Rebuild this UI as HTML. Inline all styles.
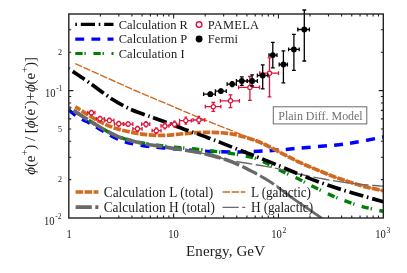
<!DOCTYPE html>
<html><head><meta charset="utf-8"><title>Positron fraction</title>
<style>html,body{margin:0;padding:0;background:#fff}body{width:407px;height:273px;overflow:hidden;font-family:"Liberation Serif",serif}</style></head>
<body>
<svg width="407" height="273" viewBox="0 0 407 273" style="display:block;will-change:transform">
<rect x="0" y="0" width="407" height="273" fill="#ffffff"/>
<defs><clipPath id="cp"><rect x="68.80" y="14.00" width="314.50" height="204.00"/></clipPath></defs>
<g clip-path="url(#cp)" fill="none" stroke-linecap="butt" stroke-linejoin="round">
<defs>
<clipPath id="g0"><rect x="0" y="0" width="238" height="273"/></clipPath>
<clipPath id="g1"><rect x="238" y="0" width="19" height="273"/></clipPath>
<clipPath id="g2"><rect x="257" y="0" width="18.5" height="273"/></clipPath>
<clipPath id="g3"><rect x="276.5" y="0" width="53.5" height="273"/></clipPath>
</defs>
<path d="M68.80 109.90 C69.73 110.67 72.20 112.95 74.40 114.50 C76.60 116.05 79.47 117.77 82.00 119.20 C84.53 120.63 87.22 121.78 89.60 123.10 C91.98 124.42 93.92 125.70 96.30 127.10 C98.68 128.50 101.60 130.17 103.90 131.50 C106.20 132.83 107.87 133.88 110.10 135.10 C112.33 136.32 114.97 137.73 117.30 138.80 C119.63 139.87 121.70 140.72 124.10 141.50 C126.50 142.28 127.92 142.72 131.70 143.50 C135.48 144.28 141.47 145.47 146.80 146.20 C152.13 146.93 157.40 147.33 163.70 147.90 C170.00 148.47 177.72 149.03 184.60 149.60 C191.48 150.17 196.82 150.92 205.00 151.30 C213.18 151.68 224.82 151.90 233.70 151.90 C242.58 151.90 250.92 151.60 258.30 151.30 C265.68 151.00 271.10 150.63 278.00 150.10 C284.90 149.57 290.37 148.92 299.70 148.10 C309.03 147.28 324.90 146.13 334.00 145.20 C343.10 144.27 346.08 143.87 354.30 142.50 C362.52 141.13 378.47 137.92 383.30 137.00" stroke="#0000ff" stroke-width="3.5" stroke-dasharray="8.9 7.27" stroke-dashoffset="0"/>
<path d="M68.80 107.50 C71.13 109.00 77.65 113.25 82.80 116.50 C87.95 119.75 94.08 123.75 99.70 127.00 C105.32 130.25 110.90 133.67 116.50 136.00 C122.10 138.33 128.25 139.73 133.30 141.00 C138.35 142.27 141.73 142.77 146.80 143.60 C151.87 144.43 158.08 145.30 163.70 146.00 C169.32 146.70 174.75 147.23 180.50 147.80 C186.25 148.37 192.45 148.80 198.20 149.40 C203.95 150.00 209.38 150.70 215.00 151.40 C220.62 152.10 226.13 152.70 231.90 153.60 C237.67 154.50 245.12 155.82 249.60 156.80 C254.08 157.78 255.58 158.23 258.80 159.50 C262.02 160.77 264.90 162.38 268.90 164.40 C272.90 166.42 277.67 169.08 282.80 171.60 C287.93 174.12 294.73 177.05 299.70 179.50 C304.67 181.95 306.37 183.25 312.60 186.30 C318.83 189.35 328.92 194.45 337.10 197.80 C345.28 201.15 354.00 204.15 361.70 206.40 C369.40 208.65 379.70 210.48 383.30 211.30" stroke="#008000" stroke-width="3.4" stroke-dasharray="7.3 1.9 1.3 7.6" stroke-dashoffset="12.4"/>
<path clip-path="url(#g0)" d="M68.80 107.50 C71.13 109.00 77.65 113.25 82.80 116.50 C87.95 119.75 94.08 123.75 99.70 127.00 C105.32 130.25 110.90 133.62 116.50 136.00 C122.10 138.38 128.25 139.93 133.30 141.30 C138.35 142.67 141.73 143.27 146.80 144.20 C151.87 145.13 158.08 146.02 163.70 146.90 C169.32 147.78 174.78 148.60 180.50 149.50 C186.22 150.40 193.00 151.37 198.00 152.30 C203.00 153.23 205.67 153.82 210.50 155.10 C215.33 156.38 221.83 158.18 227.00 160.00 C232.17 161.82 236.75 163.78 241.50 166.00 C246.25 168.22 251.58 171.20 255.50 173.30 C259.42 175.40 261.92 176.75 265.00 178.60 C268.08 180.45 270.05 181.62 274.00 184.40 C277.95 187.18 283.53 191.58 288.70 195.30 C293.87 199.02 299.45 202.85 305.00 206.70 C310.55 210.55 319.17 216.45 322.00 218.40" stroke="#696969" stroke-width="3.7" stroke-dasharray="16.4 3.54" stroke-dashoffset="13.77"/>
<path clip-path="url(#g1)" d="M68.80 107.50 C71.13 109.00 77.65 113.25 82.80 116.50 C87.95 119.75 94.08 123.75 99.70 127.00 C105.32 130.25 110.90 133.62 116.50 136.00 C122.10 138.38 128.25 139.93 133.30 141.30 C138.35 142.67 141.73 143.27 146.80 144.20 C151.87 145.13 158.08 146.02 163.70 146.90 C169.32 147.78 174.78 148.60 180.50 149.50 C186.22 150.40 193.00 151.37 198.00 152.30 C203.00 153.23 205.67 153.82 210.50 155.10 C215.33 156.38 221.83 158.18 227.00 160.00 C232.17 161.82 236.75 163.78 241.50 166.00 C246.25 168.22 251.58 171.20 255.50 173.30 C259.42 175.40 261.92 176.75 265.00 178.60 C268.08 180.45 270.05 181.62 274.00 184.40 C277.95 187.18 283.53 191.58 288.70 195.30 C293.87 199.02 299.45 202.85 305.00 206.70 C310.55 210.55 319.17 216.45 322.00 218.40" stroke="#696969" stroke-width="3.3" stroke-dasharray="16.4 3.54" stroke-dashoffset="13.77"/>
<path clip-path="url(#g2)" d="M68.80 107.50 C71.13 109.00 77.65 113.25 82.80 116.50 C87.95 119.75 94.08 123.75 99.70 127.00 C105.32 130.25 110.90 133.62 116.50 136.00 C122.10 138.38 128.25 139.93 133.30 141.30 C138.35 142.67 141.73 143.27 146.80 144.20 C151.87 145.13 158.08 146.02 163.70 146.90 C169.32 147.78 174.78 148.60 180.50 149.50 C186.22 150.40 193.00 151.37 198.00 152.30 C203.00 153.23 205.67 153.82 210.50 155.10 C215.33 156.38 221.83 158.18 227.00 160.00 C232.17 161.82 236.75 163.78 241.50 166.00 C246.25 168.22 251.58 171.20 255.50 173.30 C259.42 175.40 261.92 176.75 265.00 178.60 C268.08 180.45 270.05 181.62 274.00 184.40 C277.95 187.18 283.53 191.58 288.70 195.30 C293.87 199.02 299.45 202.85 305.00 206.70 C310.55 210.55 319.17 216.45 322.00 218.40" stroke="#696969" stroke-width="3.0" stroke-dasharray="16.4 3.54" stroke-dashoffset="13.77"/>
<path clip-path="url(#g3)" d="M68.80 107.50 C71.13 109.00 77.65 113.25 82.80 116.50 C87.95 119.75 94.08 123.75 99.70 127.00 C105.32 130.25 110.90 133.62 116.50 136.00 C122.10 138.38 128.25 139.93 133.30 141.30 C138.35 142.67 141.73 143.27 146.80 144.20 C151.87 145.13 158.08 146.02 163.70 146.90 C169.32 147.78 174.78 148.60 180.50 149.50 C186.22 150.40 193.00 151.37 198.00 152.30 C203.00 153.23 205.67 153.82 210.50 155.10 C215.33 156.38 221.83 158.18 227.00 160.00 C232.17 161.82 236.75 163.78 241.50 166.00 C246.25 168.22 251.58 171.20 255.50 173.30 C259.42 175.40 261.92 176.75 265.00 178.60 C268.08 180.45 270.05 181.62 274.00 184.40 C277.95 187.18 283.53 191.58 288.70 195.30 C293.87 199.02 299.45 202.85 305.00 206.70 C310.55 210.55 319.17 216.45 322.00 218.40" stroke="#696969" stroke-width="2.7"/>
<path d="M75.30 106.70 C76.55 107.52 78.73 109.10 82.80 111.60 C86.87 114.10 94.08 118.87 99.70 121.70 C105.32 124.53 110.90 126.78 116.50 128.60 C122.10 130.42 128.25 131.58 133.30 132.60 C138.35 133.62 141.73 134.23 146.80 134.70 C151.87 135.17 158.08 135.52 163.70 135.40 C169.32 135.28 174.95 134.45 180.50 134.00 C186.05 133.55 191.95 132.97 197.00 132.70 C202.05 132.43 205.68 132.28 210.80 132.40 C215.92 132.52 222.08 132.63 227.70 133.40 C233.32 134.17 238.78 135.37 244.50 137.00 C250.22 138.63 255.62 140.40 262.00 143.20 C268.38 146.00 276.52 150.60 282.80 153.80 C289.08 157.00 294.08 159.77 299.70 162.40 C305.32 165.03 310.27 167.03 316.50 169.60 C322.73 172.17 329.57 175.12 337.10 177.80 C344.63 180.48 354.00 183.53 361.70 185.70 C369.40 187.87 379.70 189.95 383.30 190.80" stroke="#d2691e" stroke-width="3.7" stroke-dasharray="7.5 1.5" stroke-dashoffset="1.2"/>
<path d="M75.30 63.70 C85.08 68.08 119.22 83.50 134.00 90.00 C148.78 96.50 153.33 98.18 164.00 102.70 C174.67 107.22 185.42 111.90 198.00 117.10 C210.58 122.30 230.83 130.35 239.50 133.90 C248.17 137.45 246.25 136.85 250.00 138.40 C253.75 139.95 256.53 140.63 262.00 143.20 C267.47 145.77 276.52 150.60 282.80 153.80 C289.08 157.00 294.08 159.77 299.70 162.40 C305.32 165.03 310.27 167.03 316.50 169.60 C322.73 172.17 329.57 175.12 337.10 177.80 C344.63 180.48 354.00 183.53 361.70 185.70 C369.40 187.87 379.70 189.95 383.30 190.80" stroke="#d2691e" stroke-width="1.4" stroke-dasharray="7.5 1.6" stroke-dashoffset="0"/>
<path d="M198.00 152.30 C200.08 152.77 205.70 153.88 210.50 155.10 C215.30 156.32 221.27 158.32 226.80 159.60 C232.33 160.88 238.08 161.82 243.70 162.80 C249.32 163.78 254.90 164.53 260.50 165.50 C266.10 166.47 270.77 167.13 277.30 168.60 C283.83 170.07 291.77 172.52 299.70 174.30 C307.63 176.08 316.62 177.85 324.90 179.30 C333.18 180.75 341.22 181.97 349.40 183.00 C357.58 184.03 368.35 184.97 374.00 185.50 C379.65 186.03 381.75 186.08 383.30 186.20" stroke="#696969" stroke-width="1.4" stroke-dasharray="16.2 3.5" stroke-dashoffset="0"/>
<path d="M68.80 68.80 C69.45 69.23 69.93 69.55 72.70 71.40 C75.47 73.25 82.03 77.58 85.40 79.90 C88.77 82.22 89.53 82.87 92.90 85.30 C96.27 87.73 102.23 92.10 105.60 94.50 C108.97 96.90 109.88 97.68 113.10 99.70 C116.32 101.72 121.62 104.83 124.90 106.60 C128.18 108.37 129.28 108.88 132.80 110.30 C136.32 111.72 142.47 113.83 146.00 115.10 C149.53 116.37 150.00 116.45 154.00 117.90 C158.00 119.35 164.37 121.70 170.00 123.80 C175.63 125.90 183.30 128.87 187.80 130.50 C192.30 132.13 193.20 132.23 197.00 133.60 C200.80 134.97 206.85 137.28 210.60 138.70 C214.35 140.12 215.57 140.55 219.50 142.10 C223.43 143.65 228.47 145.75 234.20 148.00 C239.93 150.25 246.17 152.53 253.90 155.60 C261.63 158.67 272.07 162.88 280.60 166.40 C289.13 169.92 296.92 173.47 305.10 176.70 C313.28 179.93 321.50 183.02 329.70 185.80 C337.90 188.58 345.37 190.73 354.30 193.40 C363.23 196.07 378.47 200.40 383.30 201.80" stroke="#000000" stroke-width="3.7" stroke-dasharray="14.2 3.7 1.6 3.85" stroke-dashoffset="18.65"/>
</g>
<g stroke="#dc143c" stroke-width="1.3" fill="none"><path d="M87.80 112.70H94.90 M87.80 110.80V114.60 M94.90 110.80V114.60"/><path d="M91.40 110.40V115.00 M90.10 110.40H92.70 M90.10 115.00H92.70"/><circle cx="91.40" cy="112.70" r="2.10" fill="#ffffff" stroke-width="1.2"/></g>
<g stroke="#dc143c" stroke-width="1.3" fill="none"><path d="M96.30 118.80H104.30 M96.30 116.90V120.70 M104.30 116.90V120.70"/><path d="M100.00 116.50V121.10 M98.70 116.50H101.30 M98.70 121.10H101.30"/><circle cx="100.00" cy="118.80" r="2.10" fill="#ffffff" stroke-width="1.2"/></g>
<g stroke="#dc143c" stroke-width="1.3" fill="none"><path d="M104.80 120.40H113.90 M104.80 118.50V122.30 M113.90 118.50V122.30"/><path d="M109.40 118.10V122.70 M108.10 118.10H110.70 M108.10 122.70H110.70"/><circle cx="109.40" cy="120.40" r="2.10" fill="#ffffff" stroke-width="1.2"/></g>
<g stroke="#dc143c" stroke-width="1.3" fill="none"><path d="M114.40 123.80H123.20 M114.40 121.90V125.70 M123.20 121.90V125.70"/><path d="M118.80 121.50V126.10 M117.50 121.50H120.10 M117.50 126.10H120.10"/><circle cx="118.80" cy="123.80" r="2.10" fill="#ffffff" stroke-width="1.2"/></g>
<g stroke="#dc143c" stroke-width="1.3" fill="none"><path d="M123.90 124.10H132.80 M123.90 122.20V126.00 M132.80 122.20V126.00"/><path d="M128.10 121.80V126.40 M126.80 121.80H129.40 M126.80 126.40H129.40"/><circle cx="128.10" cy="124.10" r="2.10" fill="#ffffff" stroke-width="1.2"/></g>
<g stroke="#dc143c" stroke-width="1.3" fill="none"><path d="M132.80 128.80H142.10 M132.80 126.90V130.70 M142.10 126.90V130.70"/><path d="M137.50 126.30V131.30 M136.20 126.30H138.80 M136.20 131.30H138.80"/><circle cx="137.50" cy="128.80" r="2.10" fill="#ffffff" stroke-width="1.2"/></g>
<g stroke="#dc143c" stroke-width="1.3" fill="none"><path d="M141.70 124.20H149.80 M141.70 122.30V126.10 M149.80 122.30V126.10"/><path d="M146.00 121.60V126.80 M144.70 121.60H147.30 M144.70 126.80H147.30"/><circle cx="146.00" cy="124.20" r="2.10" fill="#ffffff" stroke-width="1.2"/></g>
<g stroke="#dc143c" stroke-width="1.3" fill="none"><path d="M152.10 130.70H161.00 M152.10 128.80V132.60 M161.00 128.80V132.60"/><path d="M156.30 127.80V133.60 M155.00 127.80H157.60 M155.00 133.60H157.60"/><circle cx="156.30" cy="130.70" r="2.10" fill="#ffffff" stroke-width="1.2"/></g>
<g stroke="#dc143c" stroke-width="1.3" fill="none"><path d="M161.00 125.90H169.00 M161.00 124.00V127.80 M169.00 124.00V127.80"/><path d="M164.90 123.00V128.80 M163.60 123.00H166.20 M163.60 128.80H166.20"/><circle cx="164.90" cy="125.90" r="2.10" fill="#ffffff" stroke-width="1.2"/></g>
<g stroke="#dc143c" stroke-width="1.3" fill="none"><path d="M170.30 124.20H179.60 M170.30 122.30V126.10 M179.60 122.30V126.10"/><path d="M174.50 121.20V127.20 M173.20 121.20H175.80 M173.20 127.20H175.80"/><circle cx="174.50" cy="124.20" r="2.10" fill="#ffffff" stroke-width="1.2"/></g>
<g stroke="#dc143c" stroke-width="1.3" fill="none"><path d="M179.60 120.60H191.30 M179.60 118.70V122.50 M191.30 118.70V122.50"/><path d="M185.80 117.20V124.00 M184.50 117.20H187.10 M184.50 124.00H187.10"/><circle cx="185.80" cy="120.60" r="2.10" fill="#ffffff" stroke-width="1.2"/></g>
<g stroke="#dc143c" stroke-width="1.3" fill="none"><path d="M193.00 120.00H204.80 M193.00 118.10V121.90 M204.80 118.10V121.90"/><path d="M198.90 116.50V123.50 M197.60 116.50H200.20 M197.60 123.50H200.20"/><circle cx="198.90" cy="120.00" r="2.10" fill="#ffffff" stroke-width="1.2"/></g>
<g stroke="#dc143c" stroke-width="1.3" fill="none"><path d="M205.30 106.70H220.90 M205.30 104.80V108.60 M220.90 104.80V108.60"/><path d="M213.30 102.50V111.40 M211.40 102.50H215.20 M211.40 111.40H215.20"/><circle cx="213.30" cy="106.70" r="2.10" fill="#ffffff" stroke-width="1.2"/></g>
<g stroke="#dc143c" stroke-width="1.3" fill="none"><path d="M220.40 100.80H239.40 M220.40 98.90V102.70 M239.40 98.90V102.70"/><path d="M230.50 94.90V107.60 M228.60 94.90H232.40 M228.60 107.60H232.40"/><circle cx="230.50" cy="100.80" r="2.10" fill="#ffffff" stroke-width="1.2"/></g>
<g stroke="#dc143c" stroke-width="1.3" fill="none"><path d="M238.60 87.40H259.60 M238.60 85.50V89.30 M259.60 85.50V89.30"/><path d="M249.90 76.50V100.30 M248.00 76.50H251.80 M248.00 100.30H251.80"/><circle cx="249.90" cy="87.40" r="2.10" fill="#ffffff" stroke-width="1.2"/></g>
<g stroke="#dc143c" stroke-width="1.3" fill="none"><path d="M259.70 73.20H278.50 M259.70 71.30V75.10 M278.50 71.30V75.10"/><path d="M269.50 57.90V96.90 M267.60 57.90H271.40 M267.60 96.90H271.40"/><circle cx="269.50" cy="73.20" r="2.10" fill="#ffffff" stroke-width="1.2"/></g>
<g stroke="#000000" stroke-width="1.3" fill="none"><path d="M203.60 94.20H215.40 M203.60 92.30V96.10 M215.40 92.30V96.10"/><path d="M210.30 92.20V96.20 M209.00 92.20H211.60 M209.00 96.20H211.60"/><circle cx="210.30" cy="94.20" r="2.90" fill="#000000" stroke="none"/></g>
<g stroke="#000000" stroke-width="1.3" fill="none"><path d="M215.40 91.10H226.30 M215.40 89.20V93.00 M226.30 89.20V93.00"/><path d="M220.90 89.10V93.10 M219.60 89.10H222.20 M219.60 93.10H222.20"/><circle cx="220.90" cy="91.10" r="2.90" fill="#000000" stroke="none"/></g>
<g stroke="#000000" stroke-width="1.3" fill="none"><path d="M227.10 84.10H236.40 M227.10 82.20V86.00 M236.40 82.20V86.00"/><path d="M232.20 81.60V86.60 M230.90 81.60H233.50 M230.90 86.60H233.50"/><circle cx="232.20" cy="84.10" r="2.90" fill="#000000" stroke="none"/></g>
<g stroke="#000000" stroke-width="1.3" fill="none"><path d="M236.40 81.00H247.30 M236.40 79.10V82.90 M247.30 79.10V82.90"/><path d="M241.80 76.80V85.30 M239.90 76.80H243.70 M239.90 85.30H243.70"/><circle cx="241.80" cy="81.00" r="2.90" fill="#000000" stroke="none"/></g>
<g stroke="#000000" stroke-width="1.3" fill="none"><path d="M247.30 81.00H257.40 M247.30 79.10V82.90 M257.40 79.10V82.90"/><path d="M252.10 74.80V86.00 M250.20 74.80H254.00 M250.20 86.00H254.00"/><circle cx="252.10" cy="81.00" r="2.90" fill="#000000" stroke="none"/></g>
<g stroke="#000000" stroke-width="1.3" fill="none"><path d="M257.40 75.50H268.00 M257.40 73.60V77.40 M268.00 73.60V77.40"/><path d="M262.70 64.80V88.80 M260.80 64.80H264.60 M260.80 88.80H264.60"/><circle cx="262.70" cy="75.50" r="2.90" fill="#000000" stroke="none"/></g>
<g stroke="#000000" stroke-width="1.3" fill="none"><path d="M269.00 55.10H277.00 M269.00 53.20V57.00 M277.00 53.20V57.00"/><path d="M272.80 42.40V67.80 M270.90 42.40H274.70 M270.90 67.80H274.70"/><circle cx="272.80" cy="55.10" r="2.90" fill="#000000" stroke="none"/></g>
<g stroke="#000000" stroke-width="1.3" fill="none"><path d="M279.20 64.50H287.40 M279.20 62.60V66.40 M287.40 62.60V66.40"/><path d="M283.40 50.80V82.80 M281.50 50.80H285.30 M281.50 82.80H285.30"/><circle cx="283.40" cy="64.50" r="2.90" fill="#000000" stroke="none"/></g>
<g stroke="#000000" stroke-width="1.3" fill="none"><path d="M288.60 49.40H299.20 M288.60 47.50V51.30 M299.20 47.50V51.30"/><path d="M293.90 34.30V70.30 M292.00 34.30H295.80 M292.00 70.30H295.80"/><circle cx="293.90" cy="49.40" r="2.90" fill="#000000" stroke="none"/></g>
<g stroke="#000000" stroke-width="1.3" fill="none"><path d="M297.80 29.50H309.40 M297.80 27.60V31.40 M309.40 27.60V31.40"/><path d="M304.30 10.00V61.00 M302.40 10.00H306.20 M302.40 61.00H306.20"/><circle cx="304.30" cy="29.50" r="2.90" fill="#000000" stroke="none"/></g>
<path d="M100.36 218.00V215.60 M100.36 14.00V16.40 M118.82 218.00V215.60 M118.82 14.00V16.40 M131.92 218.00V215.60 M131.92 14.00V16.40 M142.08 218.00V215.60 M142.08 14.00V16.40 M150.38 218.00V215.60 M150.38 14.00V16.40 M157.39 218.00V215.60 M157.39 14.00V16.40 M163.47 218.00V215.60 M163.47 14.00V16.40 M168.84 218.00V215.60 M168.84 14.00V16.40 M173.63 218.00V213.40 M173.63 14.00V18.60 M205.19 218.00V215.60 M205.19 14.00V16.40 M223.65 218.00V215.60 M223.65 14.00V16.40 M236.75 218.00V215.60 M236.75 14.00V16.40 M246.91 218.00V215.60 M246.91 14.00V16.40 M255.21 218.00V215.60 M255.21 14.00V16.40 M262.23 218.00V215.60 M262.23 14.00V16.40 M268.31 218.00V215.60 M268.31 14.00V16.40 M273.67 218.00V215.60 M273.67 14.00V16.40 M278.47 218.00V213.40 M278.47 14.00V18.60 M310.02 218.00V215.60 M310.02 14.00V16.40 M328.48 218.00V215.60 M328.48 14.00V16.40 M341.58 218.00V215.60 M341.58 14.00V16.40 M351.74 218.00V215.60 M351.74 14.00V16.40 M360.04 218.00V215.60 M360.04 14.00V16.40 M367.06 218.00V215.60 M367.06 14.00V16.40 M373.14 218.00V215.60 M373.14 14.00V16.40 M378.50 218.00V215.60 M378.50 14.00V16.40 M68.80 179.65H71.20 M383.30 179.65H380.90 M68.80 157.21H71.20 M383.30 157.21H380.90 M68.80 141.30H71.20 M383.30 141.30H380.90 M68.80 128.95H71.20 M383.30 128.95H380.90 M68.80 118.86H71.20 M383.30 118.86H380.90 M68.80 110.33H71.20 M383.30 110.33H380.90 M68.80 102.95H71.20 M383.30 102.95H380.90 M68.80 96.43H71.20 M383.30 96.43H380.90 M68.80 90.60H73.40 M383.30 90.60H378.70 M68.80 52.25H71.20 M383.30 52.25H380.90 M68.80 29.81H71.20 M383.30 29.81H380.90" stroke="#222222" stroke-width="1.1" fill="none"/>
<rect x="68.80" y="14.00" width="314.50" height="204.00" fill="none" stroke="#222222" stroke-width="1.4"/>
<g font-family="'Liberation Serif', serif" fill="#1c1c1c">
<text x="62" y="55.05" font-size="8" text-anchor="end">2</text>
<text x="62" y="131.75" font-size="8" text-anchor="end">5</text>
<text x="62" y="182.45" font-size="8" text-anchor="end">2</text>
<text transform="translate(45.00,96.80) scale(0.920,1)" font-size="11.5">10<tspan font-size="8.2" dx="0.8" dy="-5.6">-1</tspan></text>
<text transform="translate(44.00,225.00) scale(0.920,1)" font-size="11.5">10<tspan font-size="8.2" dx="0.8" dy="-5.6">-2</tspan></text>
<text transform="translate(69.10,238.2) scale(0.92,1)" font-size="11.5" text-anchor="middle">1</text>
<text transform="translate(168.24,238.20) scale(0.920,1)" font-size="11.5">10</text>
<text transform="translate(271.19,238.20) scale(0.920,1)" font-size="11.5">10<tspan font-size="8.2" dx="0.8" dy="-5.6">2</tspan></text>
<text transform="translate(375.22,238.20) scale(0.920,1)" font-size="11.5">10<tspan font-size="8.2" dx="0.8" dy="-5.6">3</tspan></text>
<text transform="translate(186,256) scale(0.97,1)" font-size="15.5" textLength="81.44" lengthAdjust="spacing">Energy, GeV</text>
<text transform="translate(35,174.8) rotate(-90)" font-size="15" textLength="117.8" lengthAdjust="spacing"><tspan font-style="italic">&#981;</tspan>(e<tspan font-size="10.5" dy="-7.4">+</tspan><tspan dy="7.4">)</tspan> / [<tspan font-style="italic">&#981;</tspan>(e<tspan font-size="10.5" dy="-7.4">-</tspan><tspan dy="7.4">)</tspan>+<tspan font-style="italic">&#981;</tspan>(e<tspan font-size="10.5" dy="-7.4">+</tspan><tspan dy="7.4">)</tspan>]</text>
<text transform="translate(118.7,28.8) scale(0.98,1)" font-size="12.7" textLength="70.61" lengthAdjust="spacing">Calculation R</text>
<text transform="translate(118.7,43.2) scale(0.98,1)" font-size="12.7" textLength="69.90" lengthAdjust="spacing">Calculation P</text>
<text transform="translate(118.7,57.7) scale(0.98,1)" font-size="12.7" textLength="67.24" lengthAdjust="spacing">Calculation I</text>
<text transform="translate(207.7,28.8) scale(0.98,1)" font-size="12.7" textLength="52.35" lengthAdjust="spacing">PAMELA</text>
<text transform="translate(207.7,43.2) scale(0.98,1)" font-size="12.7" textLength="30.92" lengthAdjust="spacing">Fermi</text>
<text transform="translate(103.7,197.0) scale(0.98,1)" font-size="13.6" textLength="111.73" lengthAdjust="spacing">Calculation L (total)</text>
<text transform="translate(103.7,211.8) scale(0.98,1)" font-size="13.6" textLength="113.47" lengthAdjust="spacing">Calculation H (total)</text>
<text transform="translate(251,197.0) scale(0.98,1)" font-size="13.6" textLength="61.22" lengthAdjust="spacing">L (galactic)</text>
<text transform="translate(251,211.8) scale(0.98,1)" font-size="13.6" textLength="63.37" lengthAdjust="spacing">H (galactic)</text>
<text transform="translate(278.3,119.7) scale(0.98,1)" font-size="12.2" textLength="86.12" lengthAdjust="spacing" fill="#707070">Plain Diff. Model</text>
</g>
<rect x="273.3" y="106.8" width="93.5" height="17.1" fill="none" stroke="#6a6a6a" stroke-width="1"/>
<path d="M75.30 24.40H113.50" stroke="#000000" stroke-width="3.2" stroke-dasharray="1.6 3.9 14.2 3.7" fill="none"/>
<path d="M75.30 39.10H113.50" stroke="#0000ff" stroke-width="3.2" stroke-dasharray="8.9 7.2" fill="none"/>
<path d="M75.30 53.50H113.50" stroke="#008000" stroke-width="3.0" stroke-dasharray="7.3 1.9 1.3 7.6" fill="none"/>
<path d="M75.60 192.00H98.40" stroke="#d2691e" stroke-width="3.7" stroke-dasharray="7.5 1.5" fill="none"/>
<path d="M75.60 207.20H98.40" stroke="#696969" stroke-width="3.7" stroke-dasharray="16.2 3.5" fill="none"/>
<path d="M222.50 192.00H245.30" stroke="#d2691e" stroke-width="1.3" stroke-dasharray="7.5 1.6" fill="none"/>
<path d="M222.50 207.30H245.30" stroke="#696969" stroke-width="1.3" stroke-dasharray="16.2 3.5" fill="none"/>
<circle cx="199.1" cy="24.6" r="2.85" fill="#fff" stroke="#dc143c" stroke-width="1.4"/>
<circle cx="199.1" cy="39.0" r="3.45" fill="#000"/>
</svg>
</body></html>
